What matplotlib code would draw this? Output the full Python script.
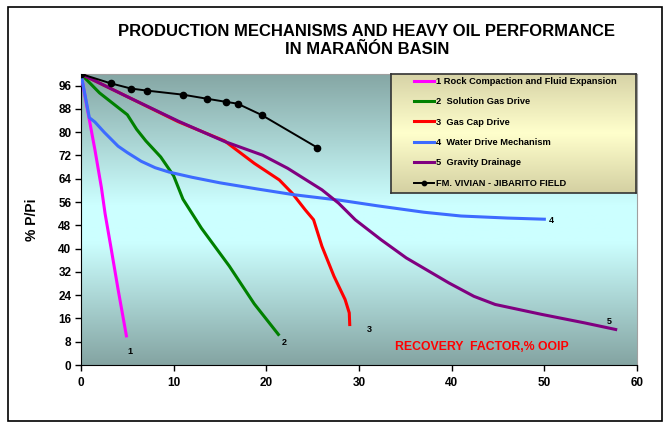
import numpy as np
import matplotlib
matplotlib.use("Agg")
import matplotlib.pyplot as plt
from matplotlib.colors import LinearSegmentedColormap
from matplotlib.patches import Rectangle

plt.rcParams['font.family'] = ['Liberation Sans', 'DejaVu Sans']
plt.rcParams['font.weight'] = 'bold'

# ---- data ----
rock_x = [0, 0.8, 1.5, 2.2, 2.6, 3.2, 4.0, 4.9]
rock_y = [100, 86, 74, 61, 52, 41, 26, 10]

sol_x = [0, 2, 4, 5, 6, 7, 8.6, 10, 11, 13, 16, 18.7, 21.3]
sol_y = [100, 93.5, 88.5, 86, 81, 77, 71.5, 65, 57, 47, 34, 21, 10.5]

gas_x = [0, 5, 10.5, 15.5, 18.7, 21.4, 22.8, 24.2, 25.1, 26.0, 27.3, 28.5, 28.95, 29.0]
gas_y = [100, 92.2, 83.6, 77.0, 69.3, 63.6, 59, 53.3, 49.9, 40.8, 30.5, 22.5, 17.9, 13.9]

water_x = [0, 0.9, 1.5, 2.5, 4, 5, 6.5, 8, 9.5, 12, 15, 19, 23, 28, 32, 37, 41, 46, 50]
water_y = [100, 85, 83.5, 80, 75.2, 73, 70, 67.8, 66.3, 64.5, 62.6, 60.5, 58.5, 56.6, 54.7, 52.5, 51.2, 50.5, 50.1]

grav_x = [0, 5, 10.5, 15.5, 19.6, 22.3, 26, 27.8, 29.6, 32.4, 35.1, 39.7, 42.4, 44.7, 49.7, 54.3, 57.7]
grav_y = [100, 92.2, 83.8, 76.8, 72.1, 67.6, 60.2, 55.6, 49.9, 43, 36.8, 28.2, 23.6, 20.8, 17.4, 14.5, 12.2]

field_x = [0, 3.2, 5.4, 7.1, 11.0, 13.6, 15.7, 16.9, 19.5, 25.5]
field_y = [100, 96.8, 95.0, 94.3, 92.9, 91.5, 90.4, 89.8, 85.9, 74.7]

labels = ["1 Rock Compaction and Fluid Expansion", "2  Solution Gas Drive",
          "3  Gas Cap Drive", "4  Water Drive Mechanism", "5  Gravity Drainage",
          "FM. VIVIAN - JIBARITO FIELD"]
curve_tags = ["1", "2", "3", "4", "5"]
tag_x = [5.3, 21.9, 31.1, 50.7, 57.0]
tag_y = [4.8, 7.9, 12.2, 49.7, 15.1]

x_ticks = [0, 10, 20, 30, 40, 50, 60]
y_ticks = [0, 8, 16, 24, 32, 40, 48, 56, 64, 72, 80, 88, 96]

title_lines = ["PRODUCTION MECHANISMS AND HEAVY OIL PERFORMANCE", "IN MARAÑÓN BASIN"]

# ---- figure ----
fig = plt.figure(figsize=(6.65, 4.24), dpi=100)
fig.patch.set_facecolor('white')
fig.add_artist(Rectangle((8/665, 1-421/424), (662-8)/665, (421-7)/424,
                         transform=fig.transFigure, fill=False,
                         edgecolor='black', linewidth=1.2))

ax = fig.add_axes([81/665, 1-365/424, (637-81)/665, (365-74)/424])

bg = LinearSegmentedColormap.from_list('bg', [(0.0, '#84A4A2'), (0.42, '#CCFFFF'),
                                               (0.55, '#CCFFFF'), (1.0, '#85A6A4')])
grad = np.linspace(0, 1, 256).reshape(-1, 1)
ax.imshow(grad, extent=[0, 60, 0, 100], origin='lower', aspect='auto',
          cmap=bg, zorder=0)

lw = 2.2
ax.plot(rock_x, rock_y, color='#FF00FF', lw=lw, zorder=3, label=labels[0])
ax.plot(sol_x, sol_y, color='#008000', lw=lw, zorder=3, label=labels[1])
ax.plot(gas_x, gas_y, color='#FF0000', lw=lw, zorder=3, label=labels[2])
ax.plot(water_x, water_y, color='#3D6BFF', lw=lw, zorder=3, label=labels[3])
ax.plot(grav_x, grav_y, color='#800080', lw=lw, zorder=3, label=labels[4])
ax.plot(field_x, field_y, color='black', lw=1.4, marker='o', ms=4.5, zorder=4,
        label=labels[5])

for t, tx, ty in zip(curve_tags, tag_x, tag_y):
    ax.text(tx, ty, t, fontsize=6.5, fontweight='bold', ha='center', va='center')

ax.text(43.2, 6.2, "RECOVERY  FACTOR,% OOIP", color='#FF0000', fontsize=8.8,
        fontweight='bold', ha='center', va='center')

ax.set_xlim(0, 60)
ax.set_ylim(0, 100)
ax.set_xticks(x_ticks)
ax.set_yticks(y_ticks)
ax.tick_params(axis='both', direction='out', length=4, width=1, labelsize=8.5)
ax.tick_params(axis='x', pad=5)
ax.tick_params(axis='y', pad=3)
for lab in ax.get_xticklabels() + ax.get_yticklabels():
    lab.set_fontweight('bold')
ax.spines['left'].set_color('black')
ax.spines['bottom'].set_color('black')
ax.spines['top'].set_color('#A0A0A0')
ax.spines['right'].set_color('#A0A0A0')
ax.set_ylabel("% P/Pi", fontsize=10, fontweight='bold')
ax.yaxis.set_label_coords(-0.075, 0.5)

# legend box with gradient
lx0, ly0 = (391-81)/556, (365-193)/291
lw_, lh_ = (636-391)/556, (193-74)/291
lax = ax.inset_axes([lx0, ly0, lw_, lh_], zorder=5)
lg = LinearSegmentedColormap.from_list('lg', [(0.0, '#D4D0A2'), (0.5, '#FFFFCC'), (1.0, '#D6D2A6')])
lax.imshow(grad, extent=[0, 1, 0, 1], origin='lower', aspect='auto', cmap=lg)
lax.set_xticks([]); lax.set_yticks([])
for s in lax.spines.values():
    s.set_color('#333333'); s.set_linewidth(1.2)

handles, labs = ax.get_legend_handles_labels()
leg = ax.legend(handles, labs, loc='upper left',
                bbox_to_anchor=(lx0 + 0.03, 1.0 + 0.012), frameon=False,
                prop={'weight': 'bold', 'size': 6.7}, handlelength=2.15,
                handletextpad=0.15, labelspacing=1.22, borderaxespad=0.3,
                markerscale=0.7)
leg.set_zorder(6)

fig.text(366/665, 1-36/424, title_lines[0], ha='center', va='baseline',
         fontsize=12, fontweight='bold')
fig.text(367/665, 1-54/424, title_lines[1], ha='center', va='baseline',
         fontsize=12, fontweight='bold')

fig.savefig('out.png', dpi=100)
